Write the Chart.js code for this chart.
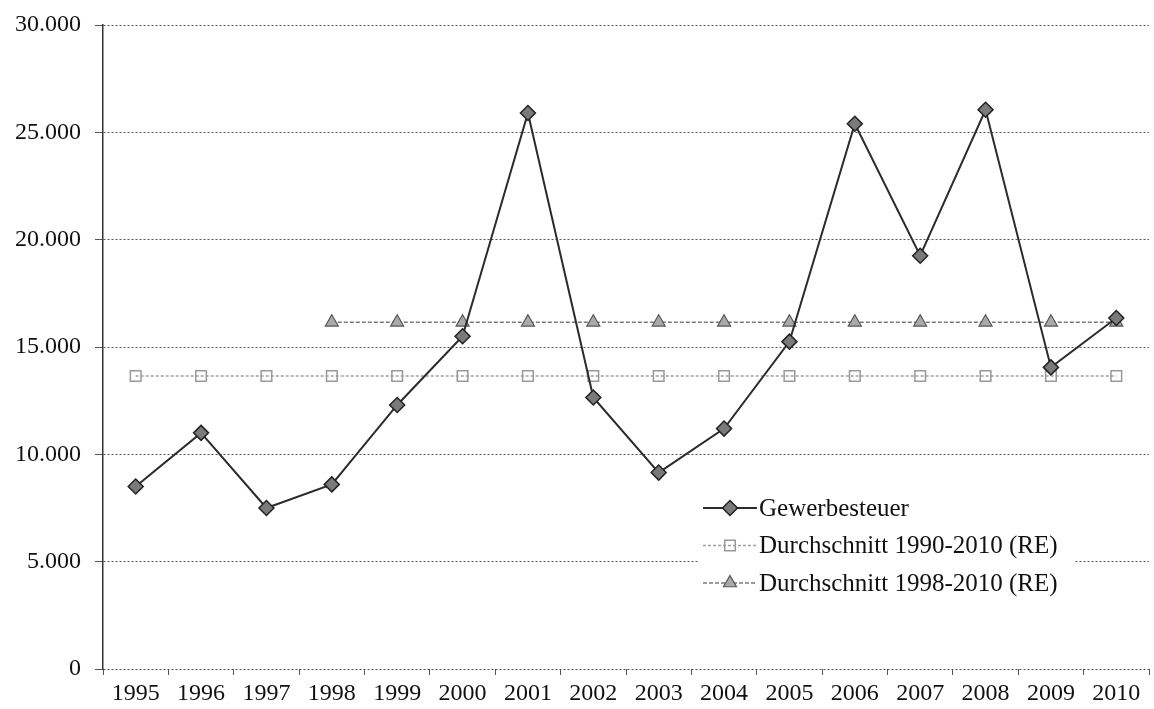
<!DOCTYPE html>
<html>
<head>
<meta charset="utf-8">
<script src="https://cdn.jsdelivr.net/npm/chart.js@4.4.1/dist/chart.umd.min.js"></script>
<style>
    html, body { margin: 0; padding: 0; background: #fff; overflow: hidden; }
</style>
</head>
<body>
<canvas id="chart" width="1158" height="709"></canvas>
<script>
const years = ['1995', '1996', '1997', '1998', '1999', '2000', '2001', '2002',
               '2003', '2004', '2005', '2006', '2007', '2008', '2009', '2010'];
const gewerbesteuer = [8500, 11000, 7500, 8600, 12300, 15500, 25900, 12650,
                       9150, 11200, 15250, 25400, 19250, 26050, 14050, 16350];
const schnitt1990 = [13650, 13650, 13650, 13650, 13650, 13650, 13650, 13650,
                     13650, 13650, 13650, 13650, 13650, 13650, 13650, 13650];
const schnitt1998 = [null, null, null, 16150, 16150, 16150, 16150, 16150,
                     16150, 16150, 16150, 16150, 16150, 16150, 16150, 16150];
const labels = ['Gewerbesteuer', 'Durchschnitt 1990-2010 (RE)', 'Durchschnitt 1998-2010 (RE)'];
const yMin = 0, yMax = 30000, yStep = 5000;

const serif = '"Liberation Serif", "Times New Roman", serif';

function punkt(n) {
    // deutsche Tausenderpunkte
    return String(n).replace(/\B(?=(\d{3})+(?!\d))/g, '.');
}

// Legende innen im Diagramm, mit weissem Kasten
const innerLegend = {
    id: 'innerLegend',
    afterDraw(chart) {
        const ctx = chart.ctx;
        const x0 = 703, y0 = 508, gap = 37.5, len = 54;
        ctx.save();
        ctx.fillStyle = '#fff';
        ctx.fillRect(698, 488, 376, 112);
        chart.data.datasets.forEach((ds, i) => {
            const y = y0 + i * gap;
            ctx.save();
            ctx.strokeStyle = ds.borderColor;
            ctx.lineWidth = ds.borderWidth;
            ctx.setLineDash(ds.borderDash || []);
            ctx.beginPath();
            ctx.moveTo(x0, y);
            ctx.lineTo(x0 + len, y);
            ctx.stroke();
            ctx.setLineDash([]);
            ctx.fillStyle = ds.pointBackgroundColor;
            ctx.strokeStyle = ds.pointBorderColor;
            ctx.lineWidth = ds.pointBorderWidth;
            Chart.helpers.drawPoint(ctx, {
                pointStyle: ds.pointStyle,
                radius: ds.pointRadius,
                borderWidth: ds.pointBorderWidth,
                rotation: 0
            }, x0 + len / 2, y);
            ctx.restore();
            ctx.fillStyle = '#111';
            ctx.font = '25px ' + serif;
            ctx.textBaseline = 'middle';
            ctx.textAlign = 'left';
            ctx.fillText(ds.label, x0 + len + 2, y + 1);
        });
        ctx.restore();
    }
};

new Chart(document.getElementById('chart'), {
    type: 'line',
    data: {
        labels: years,
        datasets: [{
            label: labels[0],
            data: gewerbesteuer,
            borderColor: '#2b2b2b',
            borderWidth: 2,
            pointStyle: 'rectRot',
            pointRadius: 7.5,
            pointBackgroundColor: '#7a7a7a',
            pointBorderColor: '#222',
            pointBorderWidth: 1.5,
            tension: 0
        }, {
            label: labels[1],
            data: schnitt1990,
            borderColor: '#a0a0a0',
            borderWidth: 1.5,
            borderDash: [3, 2],
            pointStyle: 'rect',
            pointRadius: 7.5,
            pointBackgroundColor: 'rgba(255,255,255,0)',
            pointBorderColor: '#999',
            pointBorderWidth: 1.5,
            tension: 0
        }, {
            label: labels[2],
            data: schnitt1998,
            borderColor: '#7a7a7a',
            borderWidth: 1.5,
            borderDash: [4, 2],
            pointStyle: 'triangle',
            pointRadius: 7.5,
            pointBackgroundColor: '#aaa',
            pointBorderColor: '#555',
            pointBorderWidth: 1.2,
            tension: 0
        }]
    },
    options: {
        responsive: false,
        animation: false,
        events: [],
        layout: { padding: { top: 25, right: 2, bottom: 0, left: 0 } },
        plugins: {
            legend: { display: false },
            tooltip: { enabled: false }
        },
        scales: {
            x: {
                offset: true,
                grid: {
                    offset: true,
                    drawOnChartArea: false,
                    drawTicks: true,
                    tickLength: 6,
                    color: '#555'
                },
                border: { display: false },
                ticks: {
                    color: '#111',
                    padding: 4,
                    maxRotation: 0,
                    autoSkip: false,
                    font: { family: serif, size: 24 }
                },
                afterFit(scale) { scale.height = 40; }
            },
            y: {
                min: yMin,
                max: yMax,
                grid: {
                    color: '#555',
                    lineWidth: 1,
                    tickLength: 8
                },
                border: { display: true, color: '#333', width: 1.5, dash: [2, 2] },
                ticks: {
                    stepSize: yStep,
                    color: '#111',
                    padding: 14,
                    font: { family: serif, size: 24 },
                    callback: v => punkt(v)
                },
                afterFit(scale) {
                    scale.width = 103;
                    scale.paddingTop = 0;
                }
            }
        }
    },
    plugins: [innerLegend]
});
</script>
</body>
</html>
